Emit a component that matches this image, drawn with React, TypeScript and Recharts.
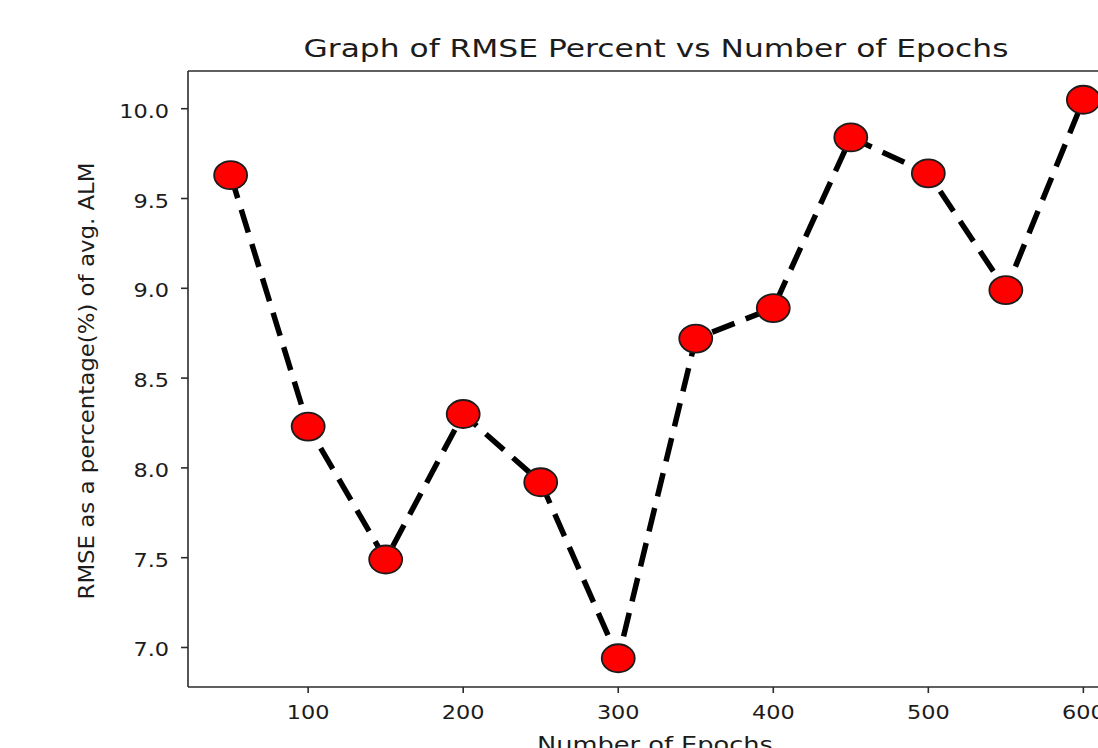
import { LineChart, Line, XAxis, YAxis, ReferenceLine } from "recharts";

const epochs = [50, 100, 150, 200, 250, 300, 350, 400, 450, 500, 550, 600];
const rmsePercent = [9.63, 8.23, 7.49, 8.3, 7.92, 6.94, 8.72, 8.89, 9.84, 9.64, 8.99, 10.05];
const xTicks = [100, 200, 300, 400, 500, 600];
const yTicks = [7.0, 7.5, 8.0, 8.5, 9.0, 9.5, 10.0];

const data = epochs.map((e, i) => ({ epoch: e, rmse: rmsePercent[i] }));

const FONT = "'DejaVu Sans', sans-serif";
const INK = "#1c1c1c";
const AXIS = "#2b2b2b";
const SX = 1.12; // the picture is stretched a bit horizontally
const Y_DOMAIN: [number, number] = [6.78, 10.21];
const X_DOMAIN: [number, number] = [22.5, 627.5];

const XTick = (props: any) => {
  const { x, y, payload } = props;
  return (
    <text
      transform={`translate(${x},${y + 26}) scale(${SX},1)`}
      textAnchor="middle"
      fontFamily={FONT}
      fontSize={20}
      fill={INK}
    >
      {payload.value}
    </text>
  );
};

const YTick = (props: any) => {
  const { x, y, payload } = props;
  return (
    <text
      transform={`translate(${x - 12},${y + 9}) scale(${SX},1)`}
      textAnchor="end"
      fontFamily={FONT}
      fontSize={20}
      fill={INK}
    >
      {Number(payload.value).toFixed(1)}
    </text>
  );
};

const Marker = (props: any) => {
  const { cx, cy, index } = props;
  if (cx == null || cy == null) return null;
  return (
    <ellipse
      key={index}
      cx={cx}
      cy={cy}
      rx={16.5}
      ry={14}
      fill="#ff0000"
      stroke={INK}
      strokeWidth={1.8}
    />
  );
};

export default function App() {
  return (
    <div
      style={{
        position: "fixed",
        left: 0,
        top: 0,
        width: 1098,
        height: 748,
        overflow: "hidden",
        background: "#fff",
      }}
    >
      <svg
        width={1098}
        height={748}
        style={{ position: "absolute", left: 0, top: 0, pointerEvents: "none", zIndex: 2 }}
      >
        <text
          x={656}
          y={57}
          textAnchor="middle"
          fontFamily={FONT}
          fontSize={25}
          fill={INK}
          textLength={705}
          lengthAdjust="spacingAndGlyphs"
        >
          Graph of RMSE Percent vs Number of Epochs
        </text>
        <text
          x={655}
          y={752}
          textAnchor="middle"
          fontFamily={FONT}
          fontSize={21}
          fill={INK}
          textLength={236}
          lengthAdjust="spacingAndGlyphs"
        >
          Number of Epochs
        </text>
        <text
          transform={`translate(94,381) scale(${SX},1) rotate(-90)`}
          textAnchor="middle"
          fontFamily={FONT}
          fontSize={19}
          fill={INK}
          textLength={437}
          lengthAdjust="spacingAndGlyphs"
        >
          RMSE as a percentage(%) of avg. ALM
        </text>
      </svg>
      <div style={{ position: "absolute", left: 0, top: 0 }}>
        <LineChart
          width={1140}
          height={748}
          data={data}
          margin={{ top: 71, right: 14, bottom: 0, left: 0 }}
        >
          <XAxis
            dataKey="epoch"
            type="number"
            domain={X_DOMAIN}
            ticks={xTicks}
            height={61}
            tickSize={6}
            tickMargin={0}
            tick={<XTick />}
            axisLine={{ stroke: AXIS, strokeWidth: 1.6 }}
            tickLine={{ stroke: AXIS, strokeWidth: 1.6 }}
            allowDataOverflow
          />
          <YAxis
            type="number"
            domain={Y_DOMAIN}
            ticks={yTicks}
            width={188}
            tickSize={7}
            tickMargin={0}
            tick={<YTick />}
            axisLine={{ stroke: AXIS, strokeWidth: 1.6 }}
            tickLine={{ stroke: AXIS, strokeWidth: 1.6 }}
            allowDataOverflow
          />
          {/* frame: top and right spines */}
          <ReferenceLine y={Y_DOMAIN[1]} stroke={AXIS} strokeWidth={1.6} ifOverflow="visible" />
          <ReferenceLine x={X_DOMAIN[1]} stroke={AXIS} strokeWidth={1.6} ifOverflow="visible" />
          <Line
            type="linear"
            dataKey="rmse"
            stroke="#000"
            strokeWidth={5.5}
            strokeDasharray="24 12"
            dot={<Marker />}
            activeDot={false}
            isAnimationActive={false}
          />
        </LineChart>
      </div>
    </div>
  );
}
